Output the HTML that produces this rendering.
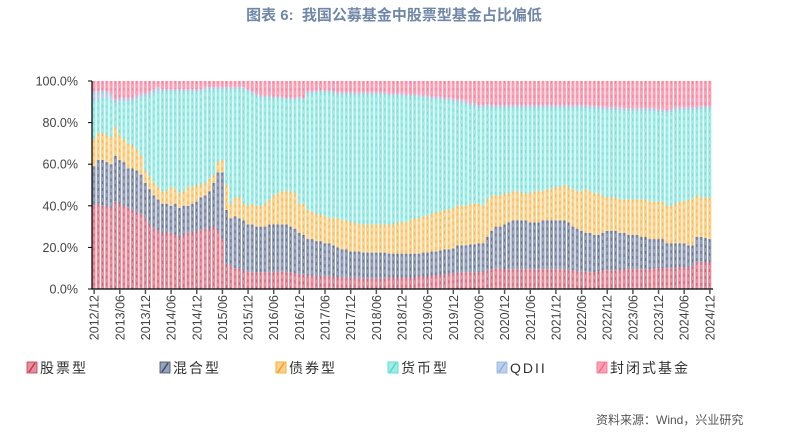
<!DOCTYPE html>
<html><head><meta charset="utf-8"><style>
body{margin:0;background:#fff;width:788px;height:433px;overflow:hidden;font-family:"Liberation Sans","Noto Sans CJK SC",sans-serif;}
#t{position:absolute;left:0;top:4px;width:788px;text-align:center;font-weight:bold;font-size:15px;color:#6f87a8;}
#src{position:absolute;left:596px;top:411px;font-size:12px;color:#555;}
</style></head><body>
<div id="t">图表 6:&nbsp; 我国公募基金中股票型基金占比偏低</div>
<svg id="c" width="788" height="433" style="position:absolute;left:0;top:0"></svg>
<div id="src">资料来源：Wind，兴业研究</div>
<script>
const stock=[40,41,40,40,39,42,41,40,39,38,37,36,34,31,29,28,27,27,27,26,25,26,27,27,28,28,29,29,30,28,24,12,11,10,10,9,8,8,8,8,8,8,8,8,8.5,8,8,7.5,7,7,6.5,6.5,6,6,6,6,6,5.5,5.5,5.5,5.5,5.5,5,5,5,5,5,5,5,5.5,5.5,5.5,5.5,5.5,5.5,5.5,6,6,6,6.5,6.5,7,7,7.5,7.5,8,8,8,8,8,8,8,9,9.5,10,10,9.5,9.5,9.5,9.5,9.5,9.5,9.5,9.5,9.5,9.5,9.5,9.5,9.5,9.5,9.5,9,9,8.5,8.5,8.5,8,8,8.5,9,9,9,9,9,9.5,9.5,9.5,9.5,9.5,9.5,9.5,10,10,10,10,10,10,10.5,10.5,10.5,11,13,13,13,13];
const mixed=[19,21,22,21,21,22,21,21,19,20,20,19,17,17,16,15,14,14,13,15,14,14,13,14,14,16,16,18,21,28,32,26,23,25,24,24,23,23,22,22,22,23,23,23,22.5,23,22,21.5,20,19,17.5,17.5,17,17,16,16,15,14.5,13.5,13.5,12.5,12.5,13,12.5,12.5,12.5,12.5,12.5,12.5,11.5,11.5,11.5,11.5,11.5,11.5,11.5,11,11.5,11.5,11.5,11.5,11.5,12,11.5,12,13,13,13,13.5,13.5,14,14,16,18.5,20,20,21.5,22.5,23.5,23.5,23.5,23.5,22.5,22.5,22.5,23.5,23.5,23.5,23.5,23.5,23.5,23,21,20.5,19.5,18.5,19,18,17.5,18,19,19,19,18,17.5,16.5,16.5,16.5,15.5,15.5,14.5,14,14,14,12,12,12,11.5,11.5,10.5,10,12,12,11.5,11];
const bond=[13,13,13,13,13,14,12,11,12,11,10,9,6,6,6,6,6,6,9,7,7,7,9,8,8,6,6,6,4,5,6,12,7,9,10,8,9,10,10,10,11,12,14,15,16,16,17,17,14,15,14,13,13,13,13,12,13,14,14,14,14,14,13,13.5,13.5,13.5,13.5,13.5,13.5,14,14,15,15,15,16,17,17,17.5,17.5,18,19,18.5,19,19,19.5,19,19,19,19.5,19.5,19,18,18,17,15,15,15,14,14,14,13,13,14,15,15,14,15,15,16,16,17,17,18,18,19,21,20,20,20,18,16,16,16,16,16,17,17,17,18,18,18,18,18,18,18,18,19,20,20,22,22,20,19,19.5,20];
const money=[18.5,16,17,18,18,11,16,18,20,21,24,28,35,39,43,46,48,48,46,47,49,48,46,46,45,45,45,43,41,35,34,46,55,52,52,55,55,53,53,52,51,49,46.5,45.5,44.5,44,44,45,50.5,50,56,57,58.5,58.5,59.5,60.5,60,59.5,60.5,60.5,61.5,61.5,62.5,62.5,62.5,62.5,62.5,62.5,62.5,62,62,61,61,60.5,59.5,58.5,58.5,57,57,55.5,54,54,52.5,52.5,51,49.5,49.5,49,47,47,46,47,44.5,42,42,42,41,41,40,40,41,41,41,40,40,40,39,39,38,38,37,38,39,40,40,39,39.5,40.5,40.5,41,42,42,42,43,42.5,42.5,42.5,42.5,42.5,42.5,43.5,43.5,43,43,44.5,45,45,44,44,43,43,41,42.5,42.5,42.5];
const qdii=[4.5,4,3.5,3,3,2,2,2,2,2,2,2,2,2,2,2,1,1,1,1,1,1,1,1,1,1,1,1,1,1,1,1,1,1,1,1,1,1,1,1,1,1,1,1,1,1,1,1,1,1,1,1,1,1,1,1,1,1,1,1,1,1,1,1,1,1,1,1,1,1,1,1,1,1,1,1,1,1,1,1,1.5,1.5,1.5,1.5,1.5,1.5,1.5,1.5,1.5,1.5,1.5,1.5,1.5,1.5,1.5,1.5,1.5,1.5,1.5,1.5,1.5,1.5,1.5,1.5,1.5,1.5,1.5,1.5,1.5,1.5,1.5,1.5,1.5,1.5,1.5,1.5,1.5,1.5,1.5,1.5,1.5,1.5,1.5,1.5,1.5,1.5,1.5,1.5,1.5,1.5,1.5,1.5,1.5,1.5,1.5,1.5,1.5,1.5,1.5,1.5,1.5,1.5,1.5,1.5,1.5];
const yTicks=["0.0%","20.0%","40.0%","60.0%","80.0%","100.0%"];
const seriesNames=["股票型","混合型","债券型","货币型","QDII","封闭式基金"];
const NS="http://www.w3.org/2000/svg";
const svg=document.getElementById('c');
const X0=92,X1=712,Y0=289,Y1=81;
const n=stock.length, bw=(X1-X0)/n;
const xs=i=>X0+i*bw;
const ys=v=>Y0-(Y0-Y1)*v/100;
const fills=["#e3919f","#97a1b7","#fdd28c","#a2ece6","#bdd0ea","#fda2b6"];
const dash=["#c9344d","#3b4a6b","#f0a020","#4fd6cc","#8fb0dc","#f36a8a"];
function mk(tag,attrs){const e=document.createElementNS(NS,tag);for(const k in attrs)e.setAttribute(k,attrs[k]);svg.appendChild(e);return e;}
for(let i=0;i<n;i++){
  const closed=Math.max(0,100-stock[i]-mixed[i]-bond[i]-money[i]-qdii[i]);
  const vals=[stock[i],mixed[i],bond[i],money[i],qdii[i],closed];
  let acc=0;
  for(let s=0;s<6;s++){
    const y1=ys(acc+vals[s]),y0=ys(acc);acc+=vals[s];
    const r=mk('rect',{x:xs(i)+0.4,y:y1,width:bw-1.1,height:Math.max(0,y0-y1),fill:fills[s]});
    
    
    mk('line',{x1:xs(i)+bw/2-0.2,x2:xs(i)+bw/2-0.2,y1:y1,y2:y0,stroke:dash[s],'stroke-width':1,'stroke-dasharray':'3,4','stroke-opacity':0.55});
  }
}
const ya=mk('line',{x1:X0,x2:X0,y1:Y1,y2:Y0,stroke:'#000','stroke-width':1.2});

const xa=mk('line',{x1:X0,x2:X1+1,y1:Y0,y2:Y0,stroke:'#000','stroke-width':1.2});

yTicks.forEach((t,k)=>{
  const y=ys(k*20);
  mk('line',{x1:X0-4,x2:X0,y1:y,y2:y,stroke:'#000'});
  const tx=mk('text',{x:X0-14,y:y+4.5,'text-anchor':'end','font-size':12.5,fill:'#444','font-family':'Liberation Sans, sans-serif'});
  tx.textContent=t;
  
});
for(let i=0;i<n;i+=6){
  const yr=2012+Math.floor((i+11)/12), mo=((i+11)%12)+1;
  const lab=yr+'/'+(mo<10?'0':'')+mo;
  const x=xs(i)+bw/2;
  mk('line',{x1:x,x2:x,y1:Y0,y2:Y0+5,stroke:'#555','stroke-width':1.5});
  const tx=mk('text',{x:0,y:0,'text-anchor':'end','font-size':12.5,fill:'#444','font-family':'Liberation Sans, sans-serif',transform:`translate(${x+4.5},${Y0+6}) rotate(-90)`});
  tx.textContent=lab;
  
}
const lx=[27,160,276,388,497,597];
seriesNames.forEach((nm,s)=>{
  const sw=mk('rect',{x:lx[s],y:362,width:10,height:11,fill:fills[s],stroke:dash[s],'stroke-width':0.8});
  
  mk('line',{x1:lx[s]+2,x2:lx[s]+8,y1:372,y2:363,stroke:dash[s],'stroke-width':1.5});
  const tx=mk('text',{x:lx[s]+13,y:373,'font-size':14,fill:'#333','letter-spacing':2,'font-family':'Liberation Sans, Noto Sans CJK SC, sans-serif'});
  tx.textContent=nm;
  
});
</script>
</body></html>
